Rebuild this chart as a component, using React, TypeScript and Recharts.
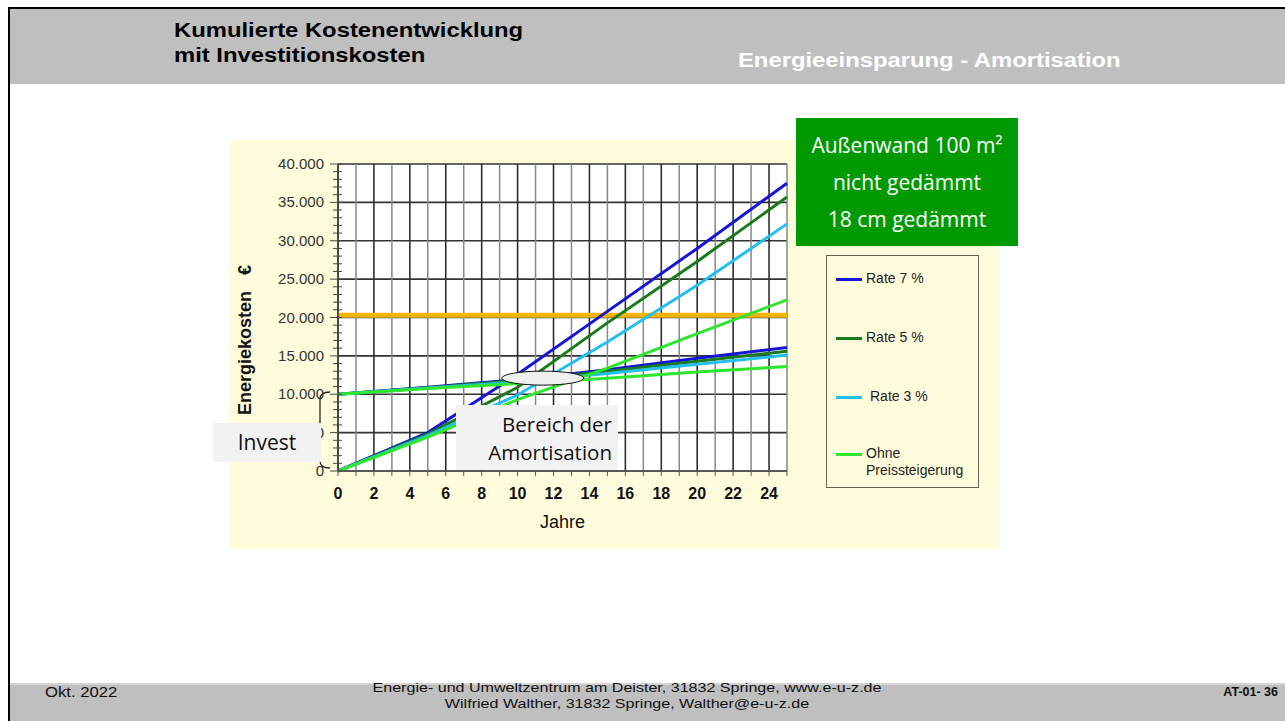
import {
  LineChart,
  Line,
  XAxis,
  YAxis,
  CartesianGrid,
  ReferenceLine,
  ReferenceDot,
  Legend,
  Label,
} from 'recharts';

const JAHRE = [0, 5, 10, 15, 20, 25];

// nicht gedämmt – kumulierte Energiekosten ab 0 €
const UNGEDAEMMT_RATE7 = [0, 5000, 12600, 20800, 29000, 37500];
const UNGEDAEMMT_RATE5 = [0, 4800, 10900, 19300, 27300, 35700];
const UNGEDAEMMT_RATE3 = [0, 4600, 9900, 16800, 24200, 32200];
const UNGEDAEMMT_OHNE = [0, 4400, 9300, 13400, 17900, 22300];

// 18 cm gedämmt – startet mit 10.000 € Investition
const GEDAEMMT_RATE7 = [10000, 10900, 11900, 13200, 14700, 16100];
const GEDAEMMT_RATE5 = [10000, 10850, 11800, 13000, 14300, 15600];
const GEDAEMMT_RATE3 = [10000, 10800, 11600, 12700, 13900, 15100];
const GEDAEMMT_OHNE = [10000, 10750, 11400, 12100, 12900, 13600];

const SERIEN = ['Rate 7 %', 'Rate 5 %', 'Rate 3 %', 'Ohne Preissteigerung'];
const FARBEN = ['#1515d8', '#1b7a1b', '#22bff0', '#2ee62e'];

const X_TICKS = [0, 1, 2, 3, 4, 5, 6, 7, 8, 9, 10, 11, 12, 13, 14, 15, 16, 17, 18, 19, 20, 21, 22, 23, 24, 25];
const X_GERADE = [0, 2, 4, 6, 8, 10, 12, 14, 16, 18, 20, 22, 24];
const X_UNGERADE = [1, 3, 5, 7, 9, 11, 13, 15, 17, 19, 21, 23, 25];
const Y_MAJOR = [0, 5000, 10000, 15000, 20000, 25000, 30000, 35000, 40000];
const Y_MINOR = Array.from({ length: 41 }, (_, i) => i * 1000);

const GRENZWERT = 20300; // orange Linie
const AMORTISATION = { jahr: 11.4, wert: 12100 };

const data = JAHRE.map((jahr, i) => ({
  jahr,
  u7: UNGEDAEMMT_RATE7[i],
  g7: GEDAEMMT_RATE7[i],
  u5: UNGEDAEMMT_RATE5[i],
  g5: GEDAEMMT_RATE5[i],
  u3: UNGEDAEMMT_RATE3[i],
  g3: GEDAEMMT_RATE3[i],
  uo: UNGEDAEMMT_OHNE[i],
  go: GEDAEMMT_OHNE[i],
}));

const LINIEN = [
  { key: 'u7', farbe: 0 },
  { key: 'g7', farbe: 0 },
  { key: 'u5', farbe: 1 },
  { key: 'g5', farbe: 1 },
  { key: 'u3', farbe: 2 },
  { key: 'g3', farbe: 2 },
  { key: 'uo', farbe: 3 },
  { key: 'go', farbe: 3 },
];

const fmt = (v: number) => v.toLocaleString('de-DE');

const YTick = ({ x, y, payload }: any) => {
  const v = payload.value;
  const major = v % 5000 === 0;
  return (
    <g>
      <line x1={x - (major ? 8 : 5)} x2={x + 4} y1={y} y2={y} stroke="#444" strokeWidth={1} />
      {major && (
        <text x={x - 14} y={y} dy={5} textAnchor="end" fontSize={15} fill="#333">
          {fmt(v)}
        </text>
      )}
    </g>
  );
};

const XTick = ({ x, y, payload }: any) => {
  const v = payload.value;
  const label = X_GERADE.includes(v);
  return (
    <g>
      <line x1={x} x2={x} y1={y} y2={y + 5} stroke="#555" strokeWidth={1} />
      {label && (
        <text x={x} y={y + 28} textAnchor="middle" fontSize={16} fontWeight="bold" fill="#111">
          {v}
        </text>
      )}
    </g>
  );
};

const YTitel = ({ viewBox }: any) => {
  const cx = viewBox.x + 22;
  const cy = viewBox.y + 176;
  return (
    <text
      x={cx}
      y={cy}
      transform={`rotate(-90 ${cx} ${cy})`}
      textAnchor="middle"
      fontSize={18}
      fontWeight="bold"
      fill="#111"
    >
      <tspan>Energiekosten</tspan>
      <tspan dx={16}>€</tspan>
    </text>
  );
};

const LegendBox = () => {
  const tops = [23, 82, 141, 198];
  return (
    <div
      style={{
        position: 'relative',
        width: 153,
        height: 233,
        boxSizing: 'border-box',
        border: '1.5px solid #67624c',
        background: '#fffcdc',
        fontFamily: 'Arial, "Liberation Sans", sans-serif',
        fontSize: 14,
        color: '#222',
      }}
    >
      {SERIEN.map((name, i) => (
        <div key={name} style={{ position: 'absolute', left: 9, top: tops[i] - 9, display: 'flex', alignItems: 'flex-start' }}>
          <div style={{ width: 26, height: 2.5, background: FARBEN[i], marginTop: 8 }} />
          <div style={{ marginLeft: i === 2 ? 8 : 4, lineHeight: '17px', width: 110 }}>
            {name === 'Ohne Preissteigerung' ? (
              <>
                Ohne
                <br />
                Preissteigerung
              </>
            ) : (
              name
            )}
          </div>
        </div>
      ))}
    </div>
  );
};

const Ellipse = ({ cx, cy }: any) => (
  <ellipse cx={cx} cy={cy} rx={41} ry={7} fill="#efefef" stroke="#111" strokeWidth={1} />
);

const abs = (s: any) => ({ position: 'absolute' as const, ...s });

const gestreckt = { transform: 'scaleX(1.19)', transformOrigin: 'left top', whiteSpace: 'nowrap' as const };

export default function App() {
  return (
    <div
      style={{
        position: 'absolute',
        left: 0,
        top: 0,
        width: 1285,
        height: 721,
        background: '#fff',
        overflow: 'hidden',
        fontFamily: 'Arial, "Liberation Sans", sans-serif',
      }}
    >
      {/* Rahmen + Kopf */}
      <div style={abs({ left: 10, top: 9, right: 0, height: 75, background: '#bfbfbf' })} />
      <div style={abs({ left: 8, top: 7, right: 0, height: 2, background: '#000' })} />
      <div style={abs({ left: 8, top: 7, width: 2, bottom: 0, background: '#000' })} />
      <div
        style={abs({
          left: 174,
          top: 18,
          fontSize: 20,
          lineHeight: '25px',
          fontWeight: 'bold',
          color: '#000',
          ...gestreckt,
        })}
      >
        Kumulierte Kostenentwicklung
        <br />
        mit Investitionskosten
      </div>
      <div
        style={abs({
          left: 738,
          top: 48,
          fontSize: 20,
          lineHeight: '25px',
          fontWeight: 'bold',
          color: '#fff',
          ...gestreckt,
        })}
      >
        Energieeinsparung - Amortisation
      </div>

      {/* Diagramm */}
      <div style={abs({ left: 229, top: 140 })}>
        <LineChart
          width={771}
          height={409}
          data={data}
          margin={{ top: 24, right: 213, left: 0, bottom: 0 }}
          style={{ background: '#fffcdc', fontFamily: 'Arial, "Liberation Sans", sans-serif' }}
        >
          <CartesianGrid fill="#fff" vertical={false} horizontalValues={Y_MAJOR} stroke="#333" strokeWidth={1.6} />
          <CartesianGrid horizontal={false} verticalValues={X_UNGERADE} stroke="#888" strokeWidth={1.5} />
          <CartesianGrid horizontal={false} verticalValues={X_GERADE} stroke="#2e2e2e" strokeWidth={1.6} />
          <XAxis
            dataKey="jahr"
            type="number"
            domain={[0, 25]}
            ticks={X_TICKS}
            interval={0}
            height={78}
            tickSize={0}
            tickMargin={0}
            tick={<XTick />}
            axisLine={{ stroke: '#555', strokeWidth: 1.5 }}
          >
            <Label value="Jahre" position="insideBottom" offset={21} fontSize={18} fill="#111" />
          </XAxis>
          <YAxis
            type="number"
            domain={[0, 40000]}
            ticks={Y_MINOR}
            interval={0}
            width={109}
            tickSize={0}
            tickMargin={0}
            tick={<YTick />}
            axisLine={{ stroke: '#444', strokeWidth: 1.5 }}
          >
            <Label content={<YTitel />} />
          </YAxis>
          <ReferenceLine y={GRENZWERT} stroke="#f5b400" strokeWidth={5} />
          {LINIEN.map((l) => (
            <Line
              key={l.key}
              dataKey={l.key}
              type="linear"
              stroke={FARBEN[l.farbe]}
              strokeWidth={3}
              dot={false}
              isAnimationActive={false}
            />
          ))}
          <ReferenceDot x={AMORTISATION.jahr} y={AMORTISATION.wert} shape={<Ellipse />} />
          <Legend
            layout="vertical"
            align="center"
            verticalAlign="middle"
            wrapperStyle={{ left: 597, top: 115, width: 153, height: 233 }}
            content={() => <LegendBox />}
          />
        </LineChart>
      </div>

      {/* Klammer Invest */}
      <svg style={abs({ left: 300, top: 385, width: 40, height: 90 })} width={40} height={90}>
        <path
          d="M30 7 Q20 7 20 14 L20 38 Q20 45 13 45 Q20 45 20 52 L20 76 Q20 83 30 83"
          fill="none"
          stroke="#222"
          strokeWidth={1.3}
        />
      </svg>
      <div
        style={abs({
          left: 213,
          top: 423,
          width: 108,
          height: 39,
          background: '#f2f2f2',
          fontFamily: '"Open Sans", sans-serif',
          fontSize: 21,
          lineHeight: '39px',
          textAlign: 'center',
          color: '#111',
        })}
      >
        Invest
      </div>
      <div
        style={abs({
          left: 456,
          top: 405,
          width: 162,
          height: 65,
          background: '#f2f2f2',
          fontFamily: '"Open Sans", sans-serif',
          fontSize: 20.5,
          lineHeight: '28px',
          textAlign: 'right',
          color: '#111',
          boxSizing: 'border-box',
          paddingRight: 6,
          paddingTop: 5,
          whiteSpace: 'nowrap',
        })}
      >
        Bereich der
        <br />
        Amortisation
      </div>

      {/* grüne Box */}
      <div
        style={abs({
          left: 796,
          top: 118,
          width: 222,
          height: 128,
          background: '#009a00',
          color: '#fff',
          fontFamily: '"Open Sans", sans-serif',
          fontSize: 21,
          lineHeight: '37px',
          textAlign: 'center',
          boxSizing: 'border-box',
          paddingTop: 9,
          whiteSpace: 'nowrap',
        })}
      >
        Außenwand 100 m²
        <br />
        nicht gedämmt
        <br />
        18 cm gedämmt
      </div>

      {/* Fußzeile */}
      <div style={abs({ left: 10, top: 683, right: 0, bottom: 0, background: '#bfbfbf', borderTop: '2px solid #d4d4d4' })} />
      <div style={abs({ left: 45, top: 684, fontSize: 14, lineHeight: '17px', color: '#111', ...gestreckt })}>Okt. 2022</div>
      <div
        style={abs({
          left: 627,
          top: 680,
          fontSize: 13.5,
          lineHeight: '16px',
          textAlign: 'center',
          color: '#111',
          whiteSpace: 'nowrap',
          transform: 'translateX(-50%) scaleX(1.19)',
        })}
      >
        Energie- und Umweltzentrum am Deister, 31832 Springe, www.e-u-z.de
        <br />
        Wilfried Walther, 31832 Springe, Walther@e-u-z.de
      </div>
      <div
        style={abs({
          right: 7,
          top: 684,
          fontSize: 12.5,
          lineHeight: '17px',
          fontWeight: 'bold',
          color: '#111',
          whiteSpace: 'nowrap',
        })}
      >
        AT-01- 36
      </div>
    </div>
  );
}
